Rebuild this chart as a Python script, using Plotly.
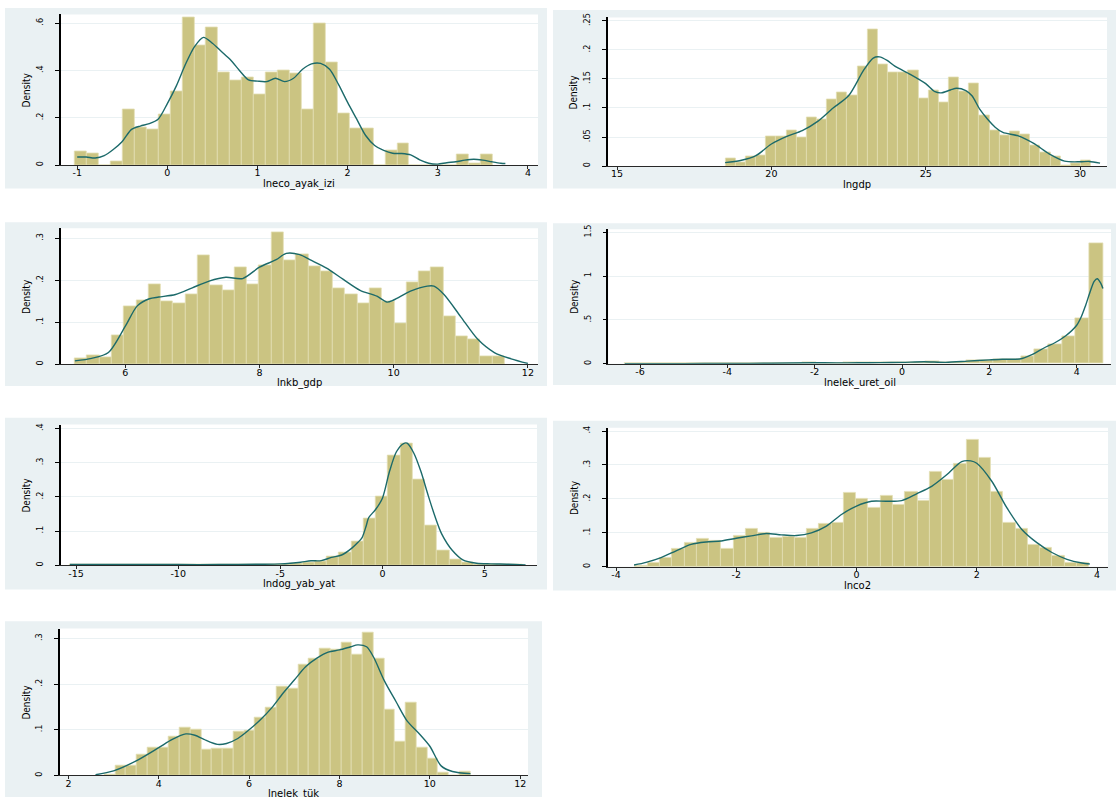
import plotly.graph_objects as go

W, H = 1116, 798

# ---------------- data ----------------
# 1) lneco_ayak_izi
eco_start, eco_width = -1.027, 0.1325
eco_hist = [0.057, 0.048, 0.0, 0.015, 0.236, 0.158, 0.150, 0.215, 0.313, 0.623,
            0.508, 0.581, 0.390, 0.358, 0.371, 0.297, 0.392, 0.402, 0.388, 0.234,
            0.598, 0.434, 0.218, 0.153, 0.153, 0.0, 0.060, 0.090, 0.0, 0.0,
            0.0, 0.0, 0.043, 0.007, 0.043]
eco_kx = [-1.0, -0.9, -0.8, -0.7, -0.6, -0.5, -0.4, -0.3, -0.2, -0.1, 0.0, 0.1, 0.2, 0.3,
          0.4, 0.5, 0.6, 0.7, 0.8, 0.9, 1.0, 1.1, 1.2, 1.3, 1.4, 1.5, 1.6, 1.7, 1.8, 1.9,
          2.0, 2.1, 2.2, 2.3, 2.4, 2.5, 2.6, 2.7, 2.8, 2.9, 3.0, 3.1, 3.2, 3.3, 3.4, 3.5,
          3.6, 3.7, 3.75]
eco_ky = [0.034, 0.034, 0.030, 0.040, 0.066, 0.100, 0.150, 0.165, 0.175, 0.195, 0.260,
          0.335, 0.425, 0.500, 0.540, 0.515, 0.480, 0.445, 0.400, 0.360, 0.355, 0.353,
          0.367, 0.353, 0.367, 0.405, 0.428, 0.430, 0.405, 0.340, 0.265, 0.195, 0.125,
          0.083, 0.062, 0.050, 0.049, 0.043, 0.022, 0.008, 0.004, 0.010, 0.014, 0.021,
          0.025, 0.021, 0.014, 0.008, 0.007]

# 2) lngdp
gdp_start, gdp_width = 18.51, 0.329
gdp_hist = [0.0137, 0.0057, 0.016, 0.018, 0.051, 0.051, 0.062, 0.049, 0.083, 0.081,
            0.115, 0.127, 0.122, 0.172, 0.235, 0.175, 0.161, 0.161, 0.164, 0.117,
            0.131, 0.110, 0.152, 0.128, 0.143, 0.087, 0.062, 0.053, 0.059, 0.054,
            0.035, 0.023, 0.016, 0.002, 0.005, 0.010]
gdp_kx = [18.5, 19.0, 19.5, 20.0, 20.5, 21.0, 21.5, 22.0, 22.5, 23.0, 23.3, 23.5, 23.75,
          24.0, 24.5, 25.0, 25.3, 25.5, 25.8, 26.0, 26.3, 26.5, 26.75, 27.0, 27.25, 27.5,
          28.0, 28.5, 29.0, 29.5, 30.0, 30.3, 30.65]
gdp_ky = [0.006, 0.0097, 0.018, 0.038, 0.051, 0.061, 0.077, 0.100, 0.121, 0.166, 0.186,
          0.188, 0.182, 0.172, 0.158, 0.142, 0.128, 0.126, 0.131, 0.134, 0.130, 0.121,
          0.098, 0.081, 0.067, 0.058, 0.052, 0.039, 0.021, 0.0085, 0.0074, 0.008, 0.005]

# 3) lnkb_gdp
kb_start, kb_width = 5.25, 0.183
kb_hist = [0.014, 0.021, 0.017, 0.068, 0.139, 0.153, 0.191, 0.149, 0.144, 0.166,
           0.260, 0.189, 0.177, 0.232, 0.190, 0.235, 0.314, 0.248, 0.262, 0.234,
           0.222, 0.180, 0.166, 0.145, 0.180, 0.150, 0.097, 0.194, 0.222, 0.232,
           0.113, 0.066, 0.059, 0.019, 0.019]
kb_kx = [5.25, 5.5, 5.75, 6.0, 6.18, 6.36, 6.5, 6.75, 7.0, 7.25, 7.5, 7.75, 8.0, 8.25,
         8.4, 8.6, 8.75, 9.0, 9.25, 9.5, 9.75, 9.9, 10.0, 10.25, 10.5, 10.6, 10.75, 11.0,
         11.25, 11.5, 11.75, 12.0]
kb_ky = [0.008, 0.014, 0.028, 0.090, 0.139, 0.156, 0.160, 0.166, 0.182, 0.198, 0.207,
         0.204, 0.231, 0.249, 0.264, 0.261, 0.249, 0.229, 0.202, 0.176, 0.162, 0.148,
         0.153, 0.174, 0.186, 0.186, 0.166, 0.113, 0.060, 0.028, 0.013, 0.002]

# 4) lnelek_uret_oil
oil_start, oil_width = -6.355, 0.313
oil_hist = [0.002, 0.0, 0.0, 0.002, 0.002, 0.003, 0.005, 0.004, 0.005, 0.004,
            0.005, 0.006, 0.007, 0.020, 0.010, 0.008, 0.015, 0.015, 0.015, 0.018,
            0.020, 0.022, 0.025, 0.020, 0.018, 0.035, 0.045, 0.050, 0.048, 0.090,
            0.165, 0.220, 0.310, 0.520, 1.380]
oil_kx = [-6.35, -5.0, -4.0, -3.0, -2.0, -1.5, -1.0, -0.5, 0.0, 0.5, 1.0, 1.5, 2.0, 2.3,
          2.6, 2.75, 3.0, 3.25, 3.5, 3.75, 4.0, 4.1, 4.2, 4.3, 4.4, 4.47, 4.55, 4.6]
oil_ky = [0.001, 0.002, 0.004, 0.006, 0.012, 0.010, 0.012, 0.013, 0.016, 0.024, 0.016,
          0.030, 0.045, 0.052, 0.052, 0.060, 0.110, 0.180, 0.240, 0.320, 0.440, 0.530,
          0.660, 0.810, 0.940, 0.970, 0.920, 0.860]

# 5) lndog_yab_yat
dog_start, dog_width = -15.33, 0.6
dog_hist = [0.002, 0.001, 0.001, 0.002, 0.001, 0.001, 0.002, 0.001, 0.001, 0.001,
            0.001, 0.001, 0.001, 0.002, 0.001, 0.002, 0.002, 0.003, 0.004, 0.009,
            0.012, 0.025, 0.037, 0.069, 0.138, 0.202, 0.322, 0.356, 0.251, 0.115,
            0.0425, 0.016, 0.007, 0.003, 0.002, 0.001, 0.002]
dog_kx = [-15.3, -14.0, -12.0, -10.0, -8.0, -6.0, -5.0, -4.5, -4.0, -3.5, -3.0, -2.5,
          -2.0, -1.5, -1.2, -1.0, -0.8, -0.68, -0.34, 0.0, 0.34, 0.68, 1.03, 1.2, 1.54,
          1.88, 2.22, 2.56, 2.9, 3.42, 3.93, 4.6, 5.3, 6.15, 7.0]
dog_ky = [0.002, 0.002, 0.002, 0.002, 0.002, 0.003, 0.004, 0.006, 0.009, 0.013, 0.0135,
          0.023, 0.030, 0.050, 0.067, 0.081, 0.115, 0.139, 0.163, 0.197, 0.274, 0.332,
          0.356, 0.357, 0.327, 0.274, 0.207, 0.144, 0.091, 0.043, 0.016, 0.006, 0.004,
          0.003, 0.001]

# 6) lnco2
co2_start, co2_width = -3.68, 0.204
co2_hist = [0.004, 0.013, 0.026, 0.053, 0.071, 0.082, 0.076, 0.053, 0.090, 0.113,
            0.101, 0.085, 0.089, 0.085, 0.111, 0.126, 0.131, 0.217, 0.201, 0.173,
            0.209, 0.184, 0.222, 0.195, 0.281, 0.255, 0.304, 0.374, 0.322, 0.220,
            0.129, 0.111, 0.066, 0.056, 0.031, 0.013, 0.011]
co2_kx = [-3.7, -3.5, -3.25, -3.0, -2.75, -2.5, -2.25, -2.0, -1.75, -1.5, -1.25, -1.0,
          -0.75, -0.5, -0.25, 0.0, 0.25, 0.5, 0.75, 1.0, 1.25, 1.5, 1.75, 1.9, 2.0, 2.25,
          2.5, 2.75, 3.0, 3.25, 3.5, 3.75, 3.88]
co2_ky = [0.005, 0.013, 0.027, 0.047, 0.066, 0.073, 0.076, 0.084, 0.091, 0.098, 0.094,
          0.092, 0.100, 0.120, 0.154, 0.179, 0.193, 0.193, 0.195, 0.215, 0.237, 0.271,
          0.310, 0.312, 0.305, 0.252, 0.174, 0.110, 0.071, 0.042, 0.022, 0.011, 0.008]

# 7) lnelek_tük
tuk_start, tuk_width = 2.8, 0.238
tuk_hist = [0.003, 0.022, 0.022, 0.046, 0.060, 0.062, 0.086, 0.105, 0.100, 0.057,
            0.059, 0.059, 0.096, 0.098, 0.126, 0.148, 0.194, 0.190, 0.242, 0.255,
            0.277, 0.275, 0.291, 0.264, 0.313, 0.256, 0.144, 0.075, 0.159, 0.062,
            0.038, 0.007, 0.0, 0.009]
tuk_kx = [2.6, 3.0, 3.5, 4.0, 4.3, 4.6, 4.8, 5.0, 5.3, 5.5, 5.75, 6.0, 6.25, 6.5, 6.75,
          7.0, 7.25, 7.5, 7.75, 8.0, 8.25, 8.4, 8.6, 8.75, 9.0, 9.25, 9.5, 9.75, 10.0,
          10.25, 10.5, 10.9]
tuk_ky = [0.0015, 0.010, 0.032, 0.061, 0.079, 0.091, 0.088, 0.079, 0.068, 0.070, 0.081,
          0.100, 0.122, 0.148, 0.180, 0.209, 0.238, 0.257, 0.270, 0.275, 0.282, 0.286,
          0.282, 0.260, 0.206, 0.162, 0.119, 0.093, 0.064, 0.021, 0.0087, 0.004]

# tick labels
eco_xt = [-1, 0, 1, 2, 3, 4]
eco_yt = [0, 0.2, 0.4, 0.6]
eco_ytl = ["0", ".2", ".4", ".6"]
gdp_xt = [15, 20, 25, 30]
gdp_yt = [0, 0.05, 0.1, 0.15, 0.2, 0.25]
gdp_ytl = ["0", ".05", ".1", ".15", ".2", ".25"]
kb_xt = [6, 8, 10, 12]
kb_yt = [0, 0.1, 0.2, 0.3]
kb_ytl = ["0", ".1", ".2", ".3"]
oil_xt = [-6, -4, -2, 0, 2, 4]
oil_yt = [0, 0.5, 1, 1.5]
oil_ytl = ["0", ".5", "1", "1.5"]
dog_xt = [-15, -10, -5, 0, 5]
dog_yt = [0, 0.1, 0.2, 0.3, 0.4]
dog_ytl = ["0", ".1", ".2", ".3", ".4"]
co2_xt = [-4, -2, 0, 2, 4]
co2_yt = [0, 0.1, 0.2, 0.3, 0.4]
co2_ytl = ["0", ".1", ".2", ".3", ".4"]
tuk_xt = [2, 4, 6, 8, 10, 12]
tuk_yt = [0, 0.1, 0.2, 0.3]
tuk_ytl = ["0", ".1", ".2", ".3"]

series = [
    ("lneco_ayak_izi", eco_start, eco_width, eco_hist, eco_kx, eco_ky, eco_xt, eco_yt, eco_ytl),
    ("lngdp", gdp_start, gdp_width, gdp_hist, gdp_kx, gdp_ky, gdp_xt, gdp_yt, gdp_ytl),
    ("lnkb_gdp", kb_start, kb_width, kb_hist, kb_kx, kb_ky, kb_xt, kb_yt, kb_ytl),
    ("lnelek_uret_oil", oil_start, oil_width, oil_hist, oil_kx, oil_ky, oil_xt, oil_yt, oil_ytl),
    ("lndog_yab_yat", dog_start, dog_width, dog_hist, dog_kx, dog_ky, dog_xt, dog_yt, dog_ytl),
    ("lnco2", co2_start, co2_width, co2_hist, co2_kx, co2_ky, co2_xt, co2_yt, co2_ytl),
    ("lnelek_tük", tuk_start, tuk_width, tuk_hist, tuk_kx, tuk_ky, tuk_xt, tuk_yt, tuk_ytl),
]

# ---------------- layout geometry (pixels) ----------------
geom = [
    dict(bg=(5, 547, 3, 185), pa=(60.7, 538, 9.5, 161.3), xc=(-1, 77.2, 4, 527.9), yc=(0.6, 18.3)),
    dict(bg=(553, 1116, 5, 185), pa=(607.8, 1107, 12.5, 162.3), xc=(15, 617.1, 30, 1080), yc=(0.25, 16)),
    dict(bg=(5, 547, 219, 384), pa=(60.7, 538, 225, 362), xc=(6, 125.2, 12, 527.9), yc=(0.3, 235)),
    dict(bg=(553, 1116, 220, 383), pa=(608.3, 1111, 226, 361.5), xc=(-6, 640, 4, 1076.7), yc=(1.5, 229)),
    dict(bg=(5, 547, 416, 589), pa=(60.7, 537, 422.7, 564.5), xc=(-15, 76, 5, 484.7), yc=(0.4, 426.7)),
    dict(bg=(553, 1116, 419, 590), pa=(607.8, 1108, 426, 566), xc=(-4, 616, 4, 1097), yc=(0.4, 429.3)),
    dict(bg=(5, 542, 621, 798), pa=(59.6, 528, 628.3, 776.3), xc=(2, 68.4, 12, 520.2), yc=(0.3, 638.3)),
]

BAR = "rgb(203,196,130)"
BAR_LINE = "rgb(226,222,178)"
KDE = "rgb(28,106,106)"
PANEL = "rgb(234,241,243)"
GRID = "rgb(234,241,243)"
NARROW = "Liberation Sans Narrow, DejaVu Sans Condensed, Arial Narrow, sans-serif"
WIDE = "DejaVu Sans, Arial, sans-serif"

fig = go.Figure()
shapes = []
annotations = []
layout = dict(width=W, height=H, margin=dict(l=0, r=0, t=0, b=0),
              paper_bgcolor="white", plot_bgcolor="rgba(0,0,0,0)", showlegend=False,
              bargap=0, font=dict(family=WIDE, color="black"))


def px(x):
    return x / W


def py(y):
    return 1 - y / H


for i, (name, st, bw, hist, kx, ky, xt, yt, ytl) in enumerate(series):
    g = geom[i]
    n = i + 1
    xa = "x" if n == 1 else f"x{n}"
    ya = "y" if n == 1 else f"y{n}"
    centers = [st + bw * (k + 0.5) for k in range(len(hist))]
    fig.add_trace(go.Bar(x=centers, y=hist, width=[bw] * len(hist), xaxis=xa, yaxis=ya,
                         marker=dict(color=BAR, line=dict(color=BAR_LINE, width=0.8)),
                         hoverinfo="skip"))
    fig.add_trace(go.Scatter(x=kx, y=ky, mode="lines", xaxis=xa, yaxis=ya,
                             line=dict(color=KDE, width=1.4, shape="spline", smoothing=0.8),
                             hoverinfo="skip"))

    bx0, bx1, by0, by1 = g["bg"]
    shapes.append(dict(type="rect", xref="paper", yref="paper", layer="below",
                       x0=px(bx0), x1=px(bx1), y0=py(by1), y1=py(by0),
                       fillcolor=PANEL, line=dict(width=0)))
    ax0, ax1, atop, abot = g["pa"]
    shapes.append(dict(type="rect", xref="paper", yref="paper", layer="below",
                       x0=px(ax0), x1=px(ax1), y0=py(abot), y1=py(atop),
                       fillcolor="white", line=dict(width=0)))

    v1, p1, v2, p2 = g["xc"]
    ppu = (p2 - p1) / (v2 - v1)
    xr = [v1 - (p1 - ax0) / ppu, v1 + (ax1 - p1) / ppu]
    yv, ypix = g["yc"]
    yppu = (abot - ypix) / yv
    yr = [0, (abot - atop) / yppu]

    xkey = "xaxis" if n == 1 else f"xaxis{n}"
    ykey = "yaxis" if n == 1 else f"yaxis{n}"
    layout[xkey] = dict(domain=[px(ax0), px(ax1)], range=xr, anchor=ya,
                        tickvals=xt, ticktext=[str(v) for v in xt],
                        showgrid=False, zeroline=False, showline=True,
                        linecolor="rgb(40,40,40)", linewidth=1,
                        ticks="outside", ticklen=3, tickcolor="rgb(40,40,40)",
                        ticklabelstandoff=-4,
                        tickfont=dict(family=WIDE, size=9.5, color="black"),
                        fixedrange=True)
    layout[ykey] = dict(domain=[py(abot), py(atop)], range=yr, anchor=xa,
                        tickvals=yt, ticktext=ytl, tickangle=-90,
                        showgrid=True, gridcolor=GRID, gridwidth=1,
                        zeroline=False, showline=True, linecolor="black", linewidth=1.6,
                        ticks="outside", ticklen=4, tickcolor="black",
                        ticklabelstandoff=8,
                        tickfont=dict(family=NARROW, size=9, color="black"),
                        fixedrange=True)

    # axis titles
    annotations.append(dict(text=name, xref="paper", yref="paper",
                            x=px((ax0 + ax1) / 2), y=py(abot + 19),
                            xanchor="center", yanchor="middle", showarrow=False,
                            font=dict(family=WIDE, size=10, color="black")))
    annotations.append(dict(text="Density", xref="paper", yref="paper",
                            x=px(ax0 - 34), y=py((atop + abot) / 2),
                            xanchor="center", yanchor="middle", showarrow=False, textangle=-90,
                            font=dict(family=NARROW, size=10, color="black")))

layout["shapes"] = shapes
layout["annotations"] = annotations
fig.update_layout(**layout)
fig.write_html("out.html")
